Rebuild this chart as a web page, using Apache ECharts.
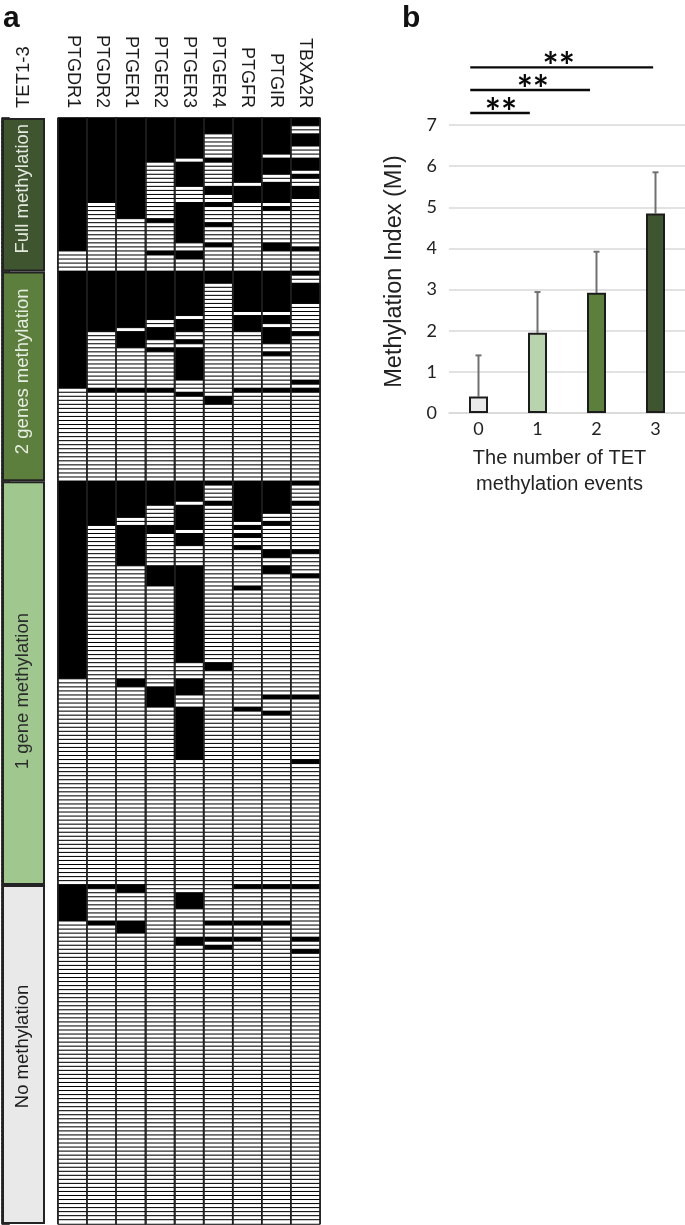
<!DOCTYPE html>
<html><head><meta charset="utf-8">
<script src="https://cdn.jsdelivr.net/npm/echarts@6/dist/echarts.min.js"></script>
<style>html,body{margin:0;padding:0;background:#fff}#c{width:685px;height:1225px}</style>
</head><body><div id="c"></div>
<script>
// ---- panel a data ----
const genes = ['PTGDR1','PTGDR2','PTGER1','PTGER2','PTGER3','PTGER4','PTGFR','PTGIR','TBXA2R'];
const groupNames = ['Full methylation','2 genes methylation','1 gene methylation','No methylation'];
const groupRows = [38,52,100,84];
const groupColors = ['#3f5530','#5c7f3e','#9fc78e','#e9e9e9'];
const groupText = ['#e4e8df','#e8ede2','#2b2b2b','#1c1c1c'];
const groupLabelShift = [6,5,-8,8];
// methylated (black) row ranges [first,last], one list per gene, per group
const fullRuns = [
 [[0,32]],
 [[0,20]],
 [[0,24]],
 [[0,10],[25,25],[33,33]],
 [[0,9],[11,16],[21,30],[33,34]],
 [[0,3],[10,10],[17,18],[21,21],[26,26],[31,31]],
 [[0,15],[17,20]],
 [[0,8],[10,13],[16,20],[22,22],[31,32]],
 [[0,1],[4,6],[10,12],[14,14],[17,19],[32,32]]
];
const twoRuns = [
 [[0,28]],
 [[0,14],[29,29]],
 [[0,13],[15,18],[29,29]],
 [[0,11],[14,16],[19,19],[29,29]],
 [[0,10],[12,14],[17,17],[19,26],[30,30]],
 [[0,2],[31,32]],
 [[0,9],[11,14],[29,29]],
 [[0,9],[11,12],[14,17],[20,20],[29,29]],
 [[0,0],[3,7],[15,15],[27,27],[29,29]]
];
const oneRuns = [
 [[0,48]],
 [[0,10]],
 [[0,8],[11,20],[49,50]],
 [[0,5],[11,12],[21,25],[51,55]],
 [[0,4],[6,11],[13,15],[21,44],[49,52],[56,68]],
 [[0,0],[5,5],[45,46]],
 [[0,9],[11,11],[13,13],[16,16],[26,26],[56,56]],
 [[0,7],[10,10],[17,18],[21,22],[53,53],[57,57]],
 [[0,0],[5,5],[17,17],[23,23],[53,53],[69,69]]
];
const noneRuns = [
 [[0,8]],
 [[0,0],[9,9]],
 [[0,1],[9,11]],
 [],
 [[2,5],[13,14]],
 [[9,9],[13,13],[15,15]],
 [[0,0],[9,9],[13,13]],
 [[0,0],[9,9]],
 [[0,0],[13,13],[16,16]]
];
// ---- panel b data ----
const eventCats = ['0','1','2','3'];
const miMeans = [0.4,1.95,2.92,4.85];
const miTops = [1.4,2.94,3.92,5.85];
const barColors = ['#e9e9e9','#b8d4ae','#5c7f3e','#3f5530'];
const yTicks = [0,1,2,3,4,5,6,7];
// significance brackets: [from, to, level, star position] in axis units
const sigBrackets = [[-0.14,2.96,8.4,1.36],[-0.14,1.89,7.85,0.92],[-0.14,0.87,7.29,0.38]];

const totalRows = groupRows.reduce((a,b)=>a+b,0);
const rowCats = Array.from({length:totalRows},(_,i)=>String(i));
const cells = [], stripCells = [];
const allRuns = [fullRuns,twoRuns,oneRuns,noneRuns];
let off = 0;
allRuns.forEach((runs,g)=>{
  for(let r=0;r<groupRows[g];r++){
    stripCells.push([0,off+r,0]);
    genes.forEach((_,c)=>{
      const v = runs[c].some(q=>r>=q[0]&&r<=q[1])?1:0;
      cells.push([c,off+r,v]);
    });
  }
  off+=groupRows[g];
});

const HM_TOP=118, HM_H=1106;
const option = {
  animation:false,
  backgroundColor:'#fff',
  textStyle:{fontFamily:'"Liberation Sans",Arial,sans-serif'},
  graphic:[
    {type:'text',left:3,top:4,style:{text:'a',font:'bold 30px "Liberation Sans",Arial,sans-serif',fill:'#111'}},
    {type:'text',left:402,top:4,style:{text:'b',font:'bold 30px "Liberation Sans",Arial,sans-serif',fill:'#111'}}
  ],
  visualMap:{show:false,type:'piecewise',seriesIndex:[0,1],dimension:2,
    pieces:[{value:0,color:'#ffffff'},{value:1,color:'#000000'}]},
  grid:[
    {left:58,width:262,top:HM_TOP,height:HM_H,show:true,backgroundColor:'#000',borderWidth:0},
    {left:2,width:43,top:HM_TOP,height:HM_H},
    {left:-27,width:29,top:HM_TOP,height:HM_H,show:true,backgroundColor:'#000',borderWidth:0},
    {left:449,width:236,top:125,height:288}
  ],
  xAxis:[
    {gridIndex:0,type:'category',position:'top',data:genes,z:10,
      axisLine:{show:false},axisTick:{show:false},
      axisLabel:{interval:0,rotate:90,margin:10,fontSize:18,color:'#1a1a1a'},
      splitLine:{show:true,interval:0,lineStyle:{color:'#222',width:1.6}}},
    {gridIndex:1,type:'category',position:'top',data:['TET1-3'],
      axisLine:{show:false},axisTick:{show:false},
      axisLabel:{interval:0,rotate:90,margin:10,fontSize:18.5,color:'#1a1a1a'}},
    {gridIndex:2,type:'category',data:['x'],show:false},
    {gridIndex:3,type:'category',data:eventCats,
      axisLine:{show:true,lineStyle:{color:'#d9d9d9',width:1.5}},axisTick:{show:false},
      axisLabel:{fontFamily:'Lato',fontSize:18,color:'#222',margin:7},
      name:'The number of TET\nmethylation events',nameLocation:'middle',nameGap:32,
      nameTextStyle:{fontSize:20,color:'#222',lineHeight:26,padding:[0,15,0,0]}},
    {gridIndex:3,type:'value',min:-0.5,max:3.5,show:false}
  ],
  yAxis:[
    {gridIndex:0,type:'category',inverse:true,data:rowCats,show:false},
    {gridIndex:1,type:'value',inverse:true,min:0,max:totalRows,show:false},
    {gridIndex:2,type:'category',inverse:true,data:rowCats,show:false},
    {gridIndex:3,type:'value',min:yTicks[0],max:yTicks[yTicks.length-1],interval:1,
      axisLine:{show:false},axisTick:{show:false},
      axisLabel:{fontFamily:'Lato',fontSize:18,color:'#222',margin:12},
      splitLine:{lineStyle:{color:'#d9d9d9',width:1.5}},
      name:'Methylation Index (MI)',nameLocation:'middle',nameGap:42,
      nameTextStyle:{fontSize:23.5,color:'#222',padding:[0,5,0,0]}}
  ],
  series:[
    {type:'heatmap',xAxisIndex:0,yAxisIndex:0,data:cells,progressive:0,
      itemStyle:{borderColor:'#000',borderWidth:1},emphasis:{disabled:true}},
    {type:'heatmap',xAxisIndex:2,yAxisIndex:2,data:stripCells,progressive:0,
      itemStyle:{borderColor:'#000',borderWidth:1},emphasis:{disabled:true}},
    ...groupNames.map((n,i)=>({
      type:'bar',xAxisIndex:1,yAxisIndex:1,stack:'g',barWidth:'100%',name:n,
      data:[{value:groupRows[i],itemStyle:{color:groupColors[i]}}],
      itemStyle:{borderColor:'#232323',borderWidth:2},
      label:{show:true,position:'inside',rotate:90,formatter:n,fontSize:18.5,color:groupText[i],offset:[groupLabelShift[i],-1]},
      silent:true
    })),
    {type:'bar',xAxisIndex:3,yAxisIndex:3,barWidth:19,
      data:miMeans.map((v,i)=>({value:v,itemStyle:{color:barColors[i]}})),
      itemStyle:{borderColor:'#1c1c1c',borderWidth:2},z:3},
    {type:'custom',xAxisIndex:3,yAxisIndex:3,z:2,clip:false,
      data:miTops.map((v,i)=>[i,miMeans[i],v]),encode:{x:0,y:[1,2]},
      renderItem:(p,api)=>{
        const a=api.coord([api.value(0),api.value(1)]),b=api.coord([api.value(0),api.value(2)]);
        const st={stroke:'#707070',lineWidth:2};
        return {type:'group',children:[
          {type:'line',shape:{x1:a[0],y1:a[1],x2:b[0],y2:b[1]},style:st},
          {type:'line',shape:{x1:a[0]-3,y1:b[1],x2:a[0]+3,y2:b[1]},style:st}
        ]};
      }},
    {type:'custom',xAxisIndex:4,yAxisIndex:3,z:4,clip:false,
      data:sigBrackets,encode:{x:[0,1],y:2},
      renderItem:(p,api)=>{
        const a=api.coord([api.value(0),api.value(2)]),b=api.coord([api.value(1),api.value(2)]);
        const s=api.coord([api.value(3),api.value(2)]);
        return {type:'group',children:[
          {type:'line',shape:{x1:a[0],y1:a[1],x2:b[0],y2:b[1]},style:{stroke:'#0a0a0a',lineWidth:2.4}},
          {type:'text',x:s[0],y:a[1]+0.5,style:{text:'**',font:'bold 38px Lato',fill:'#0a0a0a',textAlign:'center',textVerticalAlign:'middle'}}
        ]};
      }}
  ]
};
const chart=echarts.init(document.getElementById('c'),null,{renderer:'canvas'});
chart.setOption(option);
</script></body></html>
